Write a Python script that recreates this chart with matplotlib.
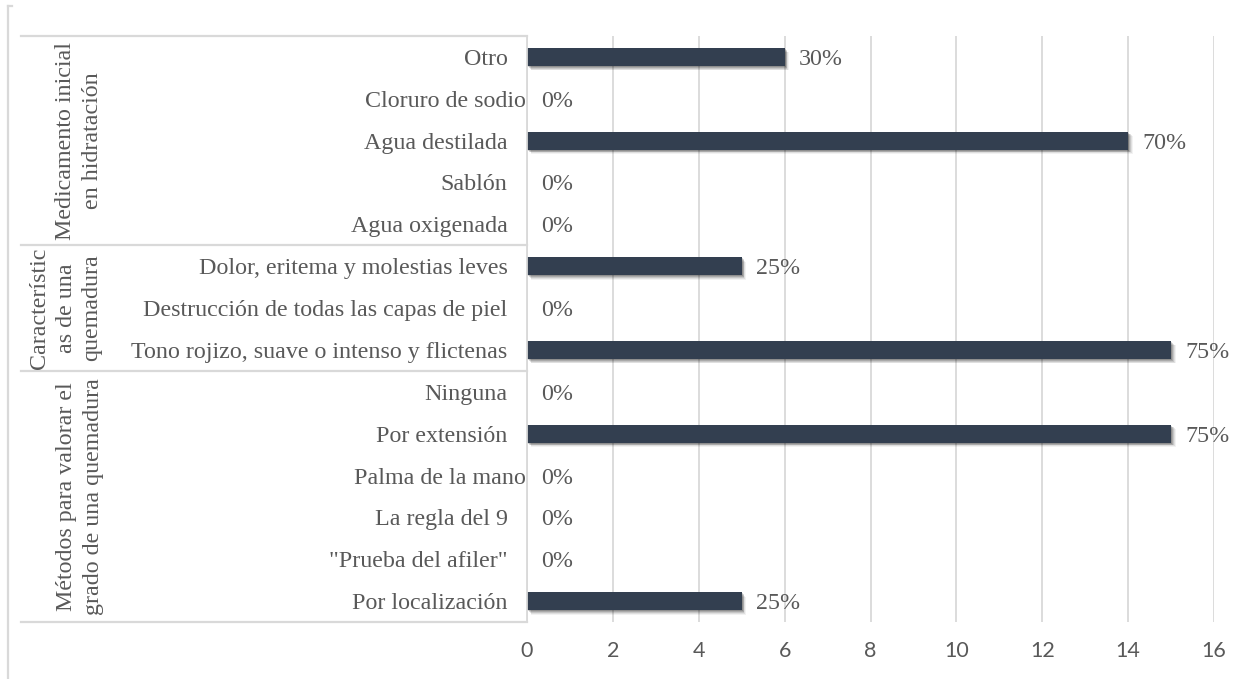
import matplotlib
matplotlib.use("Agg")
import matplotlib.pyplot as plt
import matplotlib.patheffects as pe
import matplotlib.transforms as mtransforms
from matplotlib.lines import Line2D

# ---- data (top to bottom) ----
categories = [
    "Otro",
    "Cloruro de sodio ",
    "Agua destilada",
    "Sablón",
    "Agua oxigenada",
    "Dolor, eritema y molestias leves",
    "Destrucción de todas las capas de piel",
    "Tono rojizo, suave o intenso y flictenas",
    "Ninguna",
    "Por extensión",
    "Palma de la mano ",
    "La regla del 9",
    "\"Prueba del afiler\"",
    "Por localización",
]
counts = [6, 0, 14, 0, 0, 5, 0, 15, 0, 15, 0, 0, 0, 5]
respondents = 20

groups = [
    "Medicamento inicial\nen hidratación",
    "Característic\nas de una\nquemadura",
    "Métodos para valorar el\ngrado de una quemadura",
]
group_sizes = [5, 3, 6]

x_ticks = [0, 2, 4, 6, 8, 10, 12, 14, 16]

# ---- style ----
BAR = "#333f50"
TXT = "#595959"
GRID = "#d9d9d9"
SERIF = ["Liberation Serif", "DejaVu Serif"]
SANS = ["Lato", "DejaVu Sans"]
FS = 17.3

W, H, DPI = 1252, 679, 100
fig = plt.figure(figsize=(W / DPI, H / DPI), dpi=DPI)
ax = fig.add_axes([527 / W, 1 - 622 / H, (1214 - 527) / W, (622 - 36) / H])

ypos = list(range(len(categories)))
shadow = [pe.SimplePatchShadow(offset=(o, -o), shadow_rgbFace="black", alpha=a)
          for o, a in [(3.2, 0.05), (2.6, 0.08), (2.0, 0.11), (1.4, 0.14), (0.8, 0.16)]]
bars = ax.barh(ypos, counts, height=0.43, color=BAR, linewidth=0, zorder=3)
for b in bars:
    b.set_path_effects(shadow + [pe.Normal()])

# value labels as share of respondents
for y, c in zip(ypos, counts):
    pct = round(100 * c / respondents)
    ax.annotate(f"{pct}%", xy=(c, y), xytext=(10, 0), textcoords="offset points",
                ha="left", va="center_baseline", fontsize=FS, family=SERIF, color=TXT)

ax.set_xlim(0, 16)
ax.set_ylim(len(categories) - 0.5, -0.5)
ax.set_xticks(x_ticks)
ax.set_xticklabels([str(t) for t in x_ticks], family=SANS, fontsize=15.5, color=TXT)
ax.tick_params(axis="x", length=0, pad=14)
ax.grid(axis="x", color=GRID, linewidth=1.3, zorder=0)
ax.set_axisbelow(True)
for s in ["top", "right", "bottom"]:
    ax.spines[s].set_visible(False)
ax.spines["left"].set_color(GRID)
ax.spines["left"].set_linewidth(1.3)
ax.spines["left"].set_zorder(4)

ax.set_yticks(ypos)
ax.set_yticklabels([c.strip() for c in categories], family=SERIF, fontsize=FS, color=TXT)
ax.tick_params(axis="y", length=0, pad=14)
for lab, raw in zip(ax.get_yticklabels(), categories):
    if raw.endswith(" "):
        lab.set_transform(lab.get_transform() +
                          mtransforms.ScaledTranslation(18 / DPI, 0, fig.dpi_scale_trans))

# group separators and group titles
blend = mtransforms.blended_transform_factory(fig.transFigure, ax.transData)
x_left, x_axis = 21 / W, 527 / W
bounds = [-0.5]
for n in group_sizes:
    bounds.append(bounds[-1] + n)
for yb in bounds:
    ax.add_line(Line2D([x_left, x_axis], [yb, yb], transform=blend, color=GRID,
                       linewidth=1.6, clip_on=False, zorder=1))

group_x = [79 / W, 66 / W, 80 / W]
for g, (name, gx) in enumerate(zip(groups, group_x)):
    yc = (bounds[g] + bounds[g + 1]) / 2
    ax.text(gx, yc, name, transform=blend, rotation=90, ha="center", va="center",
            multialignment="center", fontsize=FS, family=SERIF, color=TXT,
            linespacing=1.32, clip_on=False)

# outer chart frame (left edge)
fig.add_artist(Line2D([7.5 / W, 7.5 / W], [0, 1 - 6 / H], color=GRID, linewidth=1.6))
fig.add_artist(Line2D([7.5 / W, 12 / W], [1 - 6 / H, 1 - 6 / H], color=GRID, linewidth=1.6))

fig.savefig("out.png", dpi=DPI, facecolor="white")
